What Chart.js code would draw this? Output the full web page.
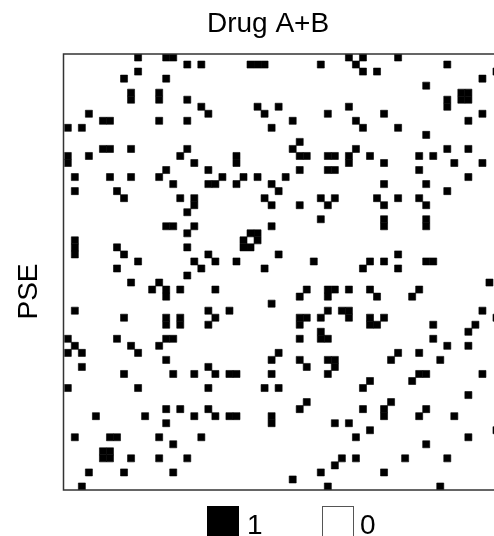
<!DOCTYPE html>
<html>
<head>
<meta charset="utf-8">
<script src="https://cdn.jsdelivr.net/npm/chart.js@4"></script>
<style>
  html, body { margin: 0; padding: 0; width: 494px; height: 536px; overflow: hidden; background: #fff; }
  #wrap { width: 536px; height: 560px; }
</style>
</head>
<body>
<div id="wrap"><canvas id="chart"></canvas></div>
<script>
const gridSize = 62;
const chartTitle = "Drug A+B";
const yTitle = "PSE";
const legendLabels = ["1", "0"];

// column numbers of the black cells, one list per row, top row first
const blackCols = [
  [10,14,15,40,42,47],
  [17,19,26,27,28,36,41,54],
  [10,42,44,61],
  [8,14,59],
  [51],
  [9,13,56,57],
  [9,13,17,54,56,57],
  [19,27,30,40,54],
  [3,20,28,37,45,59],
  [5,6,13,17,32,41,57],
  [0,2,29,42,47],
  [51],
  [33],
  [5,6,9,17,32,41,54,57],
  [0,3,16,24,33,34,37,38,40,43,50,52],
  [0,18,24,40,45,55,59],
  [14,20,33,37,38,50],
  [1,6,9,13,22,25,27,31,57],
  [15,20,21,24,29,45,51],
  [1,7,30,54],
  [8,16,18,28,36,38,44,47,50],
  [18,29,33,37,45,51],
  [17],
  [36,45,51],
  [14,15,18,29,45,51],
  [17,26,27],
  [1,25,27],
  [1,7,17,25,26],
  [1,8,20,30,47],
  [10,18,21,24,35,43,45,51,52],
  [7,19,28,42,47],
  [17],
  [9,13,60],
  [12,14,16,21,34,37,38,40,43,50],
  [14,33,37,44,49],
  [29],
  [1,20,23,37,39,40,59],
  [8,14,16,21,33,34,36,40,43,45,61],
  [14,16,20,33,43,44,52,58],
  [36,57],
  [0,7,14,15,33,36,37,52],
  [1,9,13,54,57],
  [0,2,10,30,47,50],
  [14,29,33,37,38,46,53],
  [2,20,34,38],
  [8,15,18,21,23,24,29,37,50,51,59],
  [43,49],
  [0,10,20,28,30,42],
  [57],
  [34,46],
  [14,16,20,33,42,45,51],
  [4,11,18,21,23,24,29,45,50,55],
  [14,29,38,40],
  [43,61],
  [1,6,7,13,19,41,57],
  [15,51],
  [5,6],
  [5,6,9,13,17,39,41,48,54],
  [38],
  [3,8,15,36,45],
  [32],
  [2,37,53]
];

const cellPoints = [];
blackCols.forEach((cols, row) => {
  cols.forEach((col) => cellPoints.push({ x: col + 0.5, y: row + 0.5 }));
});

const font = "'Liberation Sans', Arial, sans-serif";

// square side follows the scale, rect point side is radius * sqrt(2)
const cellRadius = (ctx) => {
  let area = ctx.chart.chartArea;
  if (!area) return 5;
  return (area.width / gridSize) / Math.SQRT2;
};

// frame, title, rotated y title and the two legend keys
const framePlugin = {
  id: "frame",
  afterDraw(chart) {
    let { ctx, chartArea } = chart;
    ctx.save();
    ctx.strokeStyle = "#333333";
    ctx.lineWidth = 1.5;
    ctx.strokeRect(chartArea.left - 0.8, chartArea.top, chartArea.width + 0.8, chartArea.height);

    ctx.fillStyle = "#000000";
    ctx.font = "28px " + font;
    ctx.textBaseline = "alphabetic";

    ctx.textAlign = "center";
    ctx.fillText(chartTitle, 268, 31.5);

    ctx.save();
    ctx.translate(37, 291.5);
    ctx.rotate(-Math.PI / 2);
    ctx.fillText(yTitle, 0, 0);
    ctx.restore();

    ctx.textAlign = "left";
    ctx.fillRect(207, 506, 32, 32);
    ctx.fillText(legendLabels[0], 247, 533.5);

    ctx.strokeStyle = "#555555";
    ctx.lineWidth = 1;
    ctx.strokeRect(322.5, 506.5, 31, 31);
    ctx.fillStyle = "#000000";
    ctx.fillText(legendLabels[1], 360, 533.5);
    ctx.restore();
  },
};

const config = {
  type: "scatter",
  data: {
    datasets: [
      {
        label: legendLabels[0],
        data: cellPoints,
        pointStyle: "rect",
        backgroundColor: "#000000",
        borderColor: "#000000",
        borderWidth: 0.6,
        pointRadius: cellRadius,
        pointHoverRadius: cellRadius,
      },
    ],
  },
  options: {
    responsive: true,
    maintainAspectRatio: false,
    animation: false,
    layout: { padding: { left: 64.3, right: 36, top: 54, bottom: 70 } },
    plugins: {
      tooltip: { enabled: false },
      legend: { display: false },
      title: { display: false },
    },
    scales: {
      x: {
        type: "linear",
        min: 0,
        max: gridSize,
        ticks: { display: false },
        grid: { display: false, drawTicks: false },
        border: { display: false },
      },
      y: {
        type: "linear",
        reverse: true,
        min: 0,
        max: gridSize,
        ticks: { display: false },
        grid: { display: false, drawTicks: false },
        border: { display: false },
      },
    },
  },
  plugins: [framePlugin],
};

new Chart(document.querySelector("#chart"), config);
</script>
</body>
</html>
